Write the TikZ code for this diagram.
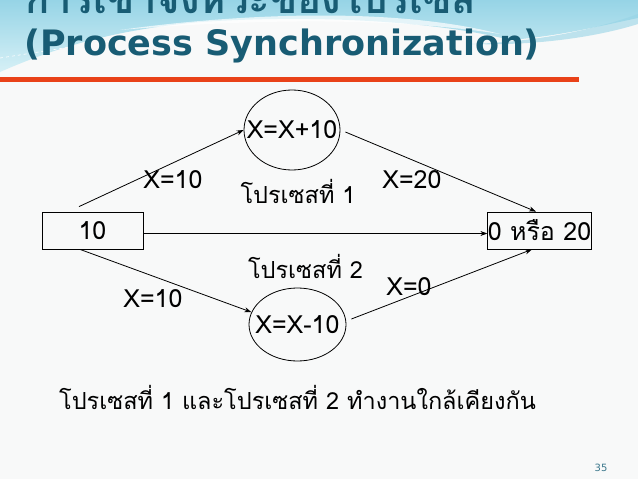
\documentclass[tikz,border=0pt]{standalone}
\usepackage{fontspec}
\usetikzlibrary{arrows.meta,shapes.geometric,calc}
\newfontfamily\thaifont[Script=Thai]{Loma}
\newfontfamily\titlefont{DejaVu Sans}
\definecolor{titleteal}{RGB}{24,92,116}
\definecolor{redline}{RGB}{233,66,25}
\definecolor{cyanlight}{RGB}{214,240,246}
\definecolor{cyandeep}{RGB}{150,212,230}
\definecolor{pagebg}{RGB}{248,249,249}
\definecolor{pagenum}{RGB}{60,120,140}
\tikzset{
  lbl/.style={font=\thaifont\fontsize{23.5}{27}\selectfont, inner sep=0pt, text=black},
  latlbl/.style={lbl, font=\thaifont\fontsize{25}{29}\selectfont},
  conn/.style={draw=black, line width=0.8pt, -{Stealth[length=7pt,width=5pt]}},
  valbox/.style={draw=black, line width=0.8pt, minimum width=101pt, minimum height=37pt, inner sep=0pt, latlbl},
  procell/.style={draw=black, ellipse, line width=0.8pt, inner sep=0pt, latlbl},
  titletext/.style={inner sep=0pt, text=titleteal}
}
\begin{document}
\begin{tikzpicture}[x=1pt,y=-1pt]
\clip (0,0) rectangle (638,479);
\fill[pagebg] (0,0) rectangle (638,479);
% decorative top swoosh
\shade[top color=cyandeep, bottom color=cyanlight]
  (0,0) -- (638,0) -- (638,18) .. controls (600,26) and (560,36) .. (510,40)
  .. controls (440,22) and (320,14) .. (200,22)
  .. controls (110,30) and (50,50) .. (0,72) -- cycle;
\fill[white, opacity=0.7]
  (120,30) .. controls (250,12) and (400,8) .. (500,34)
  .. controls (400,18) and (260,18) .. (120,30) -- cycle;
\fill[cyandeep, opacity=0.6]
  (470,44) .. controls (540,42) and (600,28) .. (638,14) -- (638,24)
  .. controls (600,36) and (540,46) .. (470,44) -- cycle;
\draw[white, dashed, line width=0.6pt] (0,58) .. controls (40,52) and (80,45) .. (120,40);
% title (first line is cut by the top edge, as in the reference)
\node[titletext, anchor=base west, font=\thaifont\bfseries\fontsize{40}{46}\selectfont] (t1) at (25,13) {การเข้าจังหวะของโปรเซส};
\node[titletext, anchor=base west, font=\titlefont\bfseries\fontsize{35}{40}\selectfont] (t2) at (24,55) {(Process Synchronization)};
\draw[redline, line width=4.5pt] (0,79.5) -- (579,79.5);
% nodes
\node[valbox] (src) at (92.5,230.5) {10};
\node[valbox] (dst) at (539.5,230.5) {0 หรือ 20};
\node[procell, minimum width=96pt, minimum height=80pt] (p1) at (292,130) {\makebox[0pt][c]{X=X+10}};
\node[procell, minimum width=97pt, minimum height=73pt] (p2) at (297.5,324.5) {\makebox[0pt][c]{X=X-10}};
% connectors
\draw[conn] ($(src.north)+(-13.5,-5)$) -- (p1.west);
\draw[conn] ($(p1.east)+(5,2)$) -- ($(dst.north)+(-3.5,0)$);
\draw[conn] ($(src.east)+(0,3)$) -- ($(dst.west)+(0,3)$);
\draw[conn] ($(src.south)+(-12.5,0)$) -- (p2.165);
\draw[conn] ($(p2.east)+(5,-5.5)$) -- ($(dst.south)+(-7.5,0)$);
% labels
\node[latlbl, anchor=base] (l1) at (173,188) {X=10};
\node[lbl, anchor=base] (l2) at (298,203) {โปรเซสที่ 1};
\node[latlbl, anchor=base] (l3) at (412,188) {X=20};
\node[lbl, anchor=base] (l4) at (305.5,278) {โปรเซสที่ 2};
\node[latlbl, anchor=base] (l5) at (153,307) {X=10};
\node[latlbl, anchor=base] (l6) at (409,295) {X=0};
\node[lbl, anchor=base west] (note) at (59,409) {โปรเซสที่ 1 และโปรเซสที่ 2 ทำงานใกล้เคียงกัน};
\node[inner sep=0pt, anchor=base, text=pagenum, font=\titlefont\fontsize{10}{12}\selectfont] (pg) at (601,471) {35};
\end{tikzpicture}
\end{document}
